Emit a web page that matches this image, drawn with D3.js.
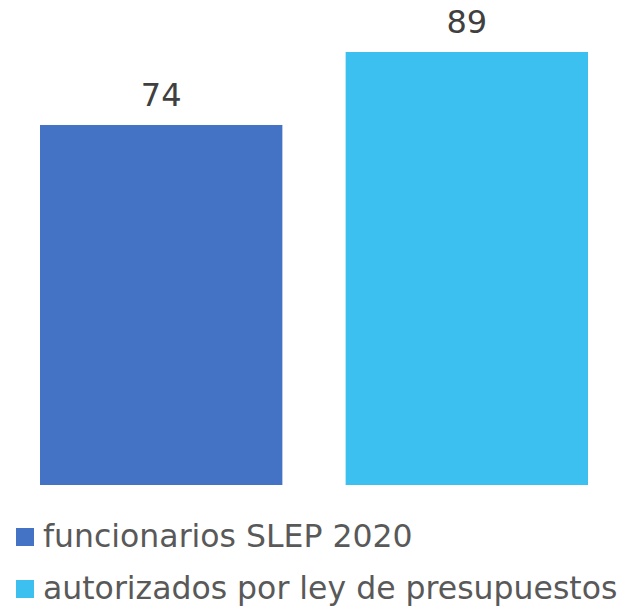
<!DOCTYPE html>
<html>
<head>
<meta charset="utf-8">
<script src="https://cdn.jsdelivr.net/npm/d3@7"></script>
<style>
  body { margin: 0; background: #fff; }
  svg { display: block; }
</style>
</head>
<body>
<svg id="chart" width="629" height="610"></svg>
<script>
var categories = ['funcionarios SLEP 2020', 'autorizados por ley de presupuestos'];
var values = [74, 89];
var colors = ['#4472C4', '#3BC0F0'];

var svg = d3.select('#chart');

var x = d3.scaleBand().domain(categories).range([40, 588]).paddingInner(0.207).paddingOuter(0);
var y = d3.scaleLinear().domain([0, 89]).range([485, 52]);

var bars = svg.append('g').classed('bars', true);
bars.selectAll('rect').data(categories).enter().append('rect')
  .attr('x', function(d){ return x(d); })
  .attr('y', function(d, i){ return y(values[i]); })
  .attr('width', x.bandwidth())
  .attr('height', function(d, i){ return y(0) - y(values[i]); })
  .style('fill', function(d, i){ return colors[i]; });

bars.selectAll('text').data(categories).enter().append('text')
  .attr('x', function(d){ return x(d) + x.bandwidth() / 2; })
  .attr('y', function(d, i){ return y(values[i]) - 19; })
  .attr('text-anchor', 'middle')
  .style('font-family', 'DejaVu Sans, Verdana, sans-serif')
  .style('font-size', '32px')
  .style('fill', '#404040')
  .text(function(d, i){ return values[i]; });

var legend = svg.append('g').classed('legend', true);
var rows = legend.selectAll('g').data(categories).enter().append('g')
  .attr('transform', function(d, i){ return 'translate(16,' + (528 + i * 52) + ')'; });
rows.append('rect')
  .attr('width', 18).attr('height', 18)
  .style('fill', function(d, i){ return colors[i]; });
rows.append('text')
  .attr('x', 27).attr('y', 19)
  .style('font-family', 'DejaVu Sans, Verdana, sans-serif')
  .style('font-size', '31.5px')
  .style('fill', '#595959')
  .text(function(d){ return d; });
</script>
</body>
</html>
